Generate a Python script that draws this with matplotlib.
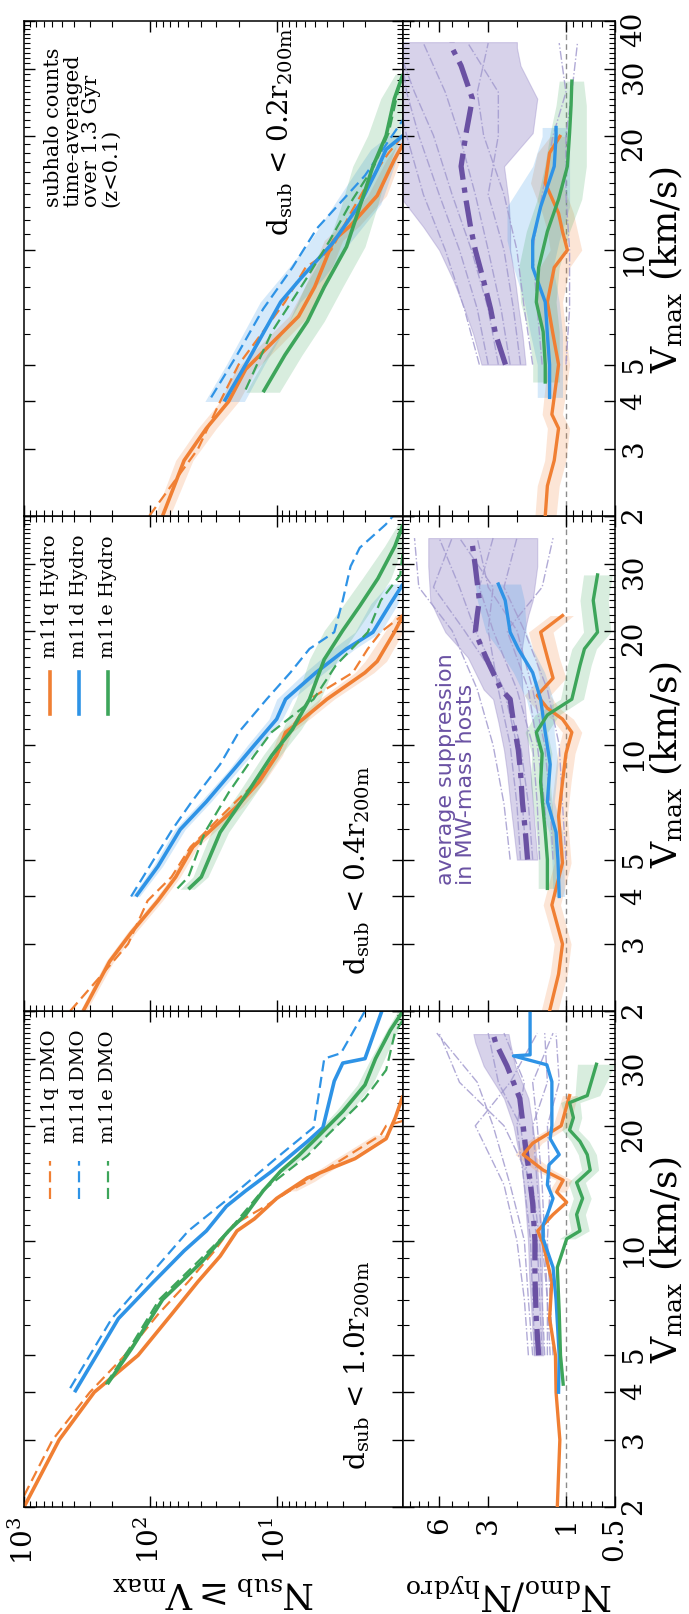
import numpy as np
import matplotlib
matplotlib.use('Agg')
import matplotlib.pyplot as plt
from matplotlib.ticker import FixedLocator, NullFormatter, LogLocator, FixedFormatter

plt.rcParams['font.family'] = ['DejaVu Serif']
plt.rcParams['mathtext.fontset'] = 'dejavuserif'

# ---------------- data ----------------
# column 1 : d_sub < 1.0 r200m
V_q_hyd_1 = [2, 3, 4, 5, 6.4, 7.8, 9.1, 10.6, 11.4, 12.9, 14.6, 16.4, 18.5, 21, 24]
N_q_hyd_1 = [1000, 527, 278, 125, 68, 42, 28, 20.6, 15, 10, 5.7, 2.4, 1.36, 1.15, 1.0]
V_q_dmo_1 = [2.14, 3, 4, 5, 6.4, 7.8, 9.4, 11, 12.2, 13.5, 14.3, 16.6, 18.9, 20, 20.6]
N_q_dmo_1 = [1000, 594, 301, 159, 87, 50, 31, 22, 12.8, 7.9, 5.7, 2.8, 1.5, 1.36, 1.0]
V_d_hyd_1 = [4.0, 6.24, 7.8, 9.4, 10.6, 12.3, 13.5, 15.2, 18.2, 19.8, 26.2, 29.2, 30, 40]
N_d_hyd_1 = [398, 179, 94, 54, 36, 25, 17.6, 10.9, 5.7, 4.3, 3.5, 3.0, 2.0, 1.47]
V_d_dmo_1 = [4.1, 6.24, 10.6, 13.2, 16.3, 19.8, 30, 31, 40]
N_d_dmo_1 = [431, 202, 50, 22, 10.4, 5.1, 4.2, 3.1, 2.0]
V_e_hyd_1 = [4.2, 5.2, 7.0, 8.8, 10.6, 11.7, 13.5, 15.2, 16.7, 18.5, 21.8, 25.6, 30, 35.6, 40]
N_e_hyd_1 = [219, 141, 80, 39, 24, 17.6, 12.8, 9.3, 6.7, 4.9, 3.0, 2.0, 1.65, 1.26, 1.0]
V_e_dmo_1 = [4.2, 5.2, 7.0, 8.8, 10.6, 13.5, 16.7, 19, 23.6, 28, 35, 38]
N_e_dmo_1 = [225, 147, 85, 42, 24, 13, 5.7, 3.9, 2.0, 1.36, 1.16, 1.0]
V_e_band_1 = [15.2, 16.7, 18.5, 21.8, 25.6, 30, 35.6, 40]
N_e_lo_1 = [8.5, 6, 4.2, 2.6, 1.75, 1.4, 1.1, 1.0]
N_e_hi_1 = [9.8, 7.2, 5.4, 3.4, 2.3, 1.8, 1.35, 1.1]
V_q_band_1 = [13.5, 14.3, 16.6, 18.9]
N_q_lo_1 = [7, 5, 2.5, 1.35]
N_q_hi_1 = [9, 6.5, 3.2, 1.7]

# column 2 : d_sub < 0.4 r200m
V_q_hyd_2 = [2, 2.7, 3.22, 3.9, 4.5, 5.4, 6.1, 6.9, 8.0, 9.4, 10.8, 11.7, 13.2, 15.5, 16.6, 19.8, 21.9]
N_q_hyd_2 = [340, 210, 141, 87, 63, 46, 31, 20.6, 13.8, 10, 8.5, 6.2, 4.0, 2.0, 1.6, 1.17, 1.0]
N_q_lo_2 = [320, 195, 130, 80, 58, 42, 28, 18.5, 12.5, 9, 7.6, 5.5, 3.5, 1.7, 1.35, 1.0, 1.0]
N_q_hi_2 = [360, 225, 152, 94, 68, 50, 34, 23, 15.3, 11.2, 9.5, 7, 4.6, 2.4, 2.0, 1.4, 1.15]
V_q_dmo_2 = [2, 2.5, 3, 3.9, 4.5, 5.4, 6.9, 8, 9.4, 10.8, 13.2, 15.5, 17.9, 19.8, 22]
N_q_dmo_2 = [431, 240, 150, 105, 68, 48, 23, 14.5, 10, 8, 5.5, 2.5, 1.9, 1.5, 1.0]
V_d_hyd_2 = [4.0, 4.8, 6.0, 7.1, 8.6, 10, 11.7, 13.2, 15.5, 17.9, 19.8, 23.5, 26.5]
N_d_hyd_2 = [130, 87, 58, 36, 22, 15, 10, 8.5, 4.9, 2.8, 1.73, 1.26, 1.0]
N_d_lo_2 = [122, 80, 53, 33, 20, 13.5, 9, 7.5, 4.2, 2.4, 1.5, 1.1, 1.0]
N_d_hi_2 = [140, 95, 64, 40, 24, 17, 11.5, 10, 6.0, 3.6, 2.4, 1.8, 1.3]
V_d_dmo_2 = [4.0, 6.0, 7.1, 8.9, 10.8, 13.2, 15.5, 17.9, 19.8, 24, 29.5, 33, 38, 40]
N_d_dmo_2 = [142, 67, 47, 28, 20, 12, 7.8, 5.5, 3.5, 3.0, 2.6, 2.2, 1.37, 1.2]
V_e_hyd_2 = [4.18, 4.5, 5.9, 7.5, 9.4, 11, 13.2, 16.8, 20, 23.2, 27.4, 33.3, 38]
N_e_hyd_2 = [50, 39.5, 28, 17, 10.9, 7.5, 5.5, 4.2, 3.0, 2.2, 1.58, 1.16, 1.0]
N_e_lo_2 = [45, 35, 24, 14.5, 9.3, 6.4, 4.5, 3.3, 2.3, 1.7, 1.25, 1.0, 1.0]
N_e_hi_2 = [58, 46, 33, 20, 12.8, 9, 7, 5.5, 4.2, 3.0, 2.1, 1.4, 1.1]
V_e_dmo_2 = [4.2, 4.5, 5.9, 7.5, 9.4, 10.8, 13.2, 16.2, 19.8, 24, 28, 33]
N_e_dmo_2 = [61, 50, 37, 24, 15, 11, 5.1, 3.4, 1.9, 1.5, 1.05, 1.0]

# column 3 : d_sub < 0.2 r200m
V_q_hyd_3 = [2, 2.8, 3.4, 4.0, 4.86, 5.7, 6.7, 8.0, 10.6, 11.6, 13.9, 17.3, 19]
N_q_hyd_3 = [80, 54, 36, 24, 17.6, 10.9, 6.7, 5.0, 3.55, 2.6, 1.6, 1.17, 1.0]
N_q_lo_3 = [70, 46, 30, 20, 14.5, 9, 5.6, 4.2, 3.0, 2.2, 1.35, 1.05, 1.0]
N_q_hi_3 = [92, 63, 42, 28, 21, 13, 8, 6.0, 4.2, 3.1, 1.9, 1.35, 1.1]
V_q_dmo_3 = [2, 3, 4, 5, 7.3, 9, 10, 12.5, 15, 18, 20]
N_q_dmo_3 = [102, 42, 28, 20, 8.6, 5.9, 3.7, 2.6, 1.9, 1.3, 1.0]
V_d_hyd_3 = [4, 5, 7.3, 8.4, 10.5, 13.2, 16.3, 18.4, 20]
N_d_hyd_3 = [26, 17.6, 9.3, 6.5, 3.55, 2.2, 1.6, 1.36, 1.0]
N_d_lo_3 = [18, 12.5, 6.5, 4.3, 2.6, 1.5, 1.2, 1.05, 1.0]
N_d_hi_3 = [37, 25, 13.5, 9.5, 5.5, 3.5, 2.3, 1.8, 1.3]
V_d_dmo_3 = [4.1, 5.3, 7, 9, 11.4, 15.7, 22]
N_d_dmo_3 = [33, 20.6, 12.8, 7.5, 4.8, 2.0, 1.0]
V_e_hyd_3 = [4.23, 5.3, 6.5, 8, 10.2, 13, 16.6, 20, 25, 29]
N_e_hyd_3 = [12.8, 8.6, 5.7, 4.2, 2.8, 2.2, 1.73, 1.36, 1.17, 1.0]
N_e_lo_3 = [9.5, 6.3, 4.2, 3.0, 2.0, 1.6, 1.3, 1.05, 1.0, 1.0]
N_e_hi_3 = [17.5, 12, 8.0, 6.0, 4.0, 3.1, 2.5, 1.9, 1.5, 1.15]
V_e_dmo_3 = [4.3, 6.1, 8.5, 10.6, 13.6, 16.6, 20.3, 27.8]
N_e_dmo_3 = [17.6, 10.9, 5.7, 3.8, 2.5, 1.7, 1.3, 1.05]

# ratio panels N_dmo / N_hydro
V_rq_1 = [2, 3, 4, 5, 6.24, 7.8, 9.8, 10.6, 11.7, 12.6, 13.4, 14.4, 15.3, 16.8, 18, 20, 24]
R_rq_1 = [1.13, 1.09, 1.15, 1.16, 1.26, 1.22, 1.38, 1.49, 1.2, 0.99, 1.14, 1.04, 1.38, 1.83, 1.6, 1.07, 0.95]
V_rq_band_1 = [13.4, 14.4, 15.3, 16.8, 18, 20, 24]
R_rq_lo_1 = [1.0, 0.92, 1.2, 1.6, 1.4, 0.95, 0.85]
R_rq_hi_1 = [1.28, 1.15, 1.55, 2.05, 1.8, 1.2, 1.05]
V_rd_1 = [4, 5, 7, 8.5, 10.1, 11.0, 11.7, 12.9, 14.0, 15.8, 16.8, 18.5, 20, 26.1, 28.9, 30.5, 30.7, 33, 40]
R_rd_1 = [1.11, 1.1, 1.15, 1.2, 1.38, 1.38, 1.3, 1.2, 1.3, 1.27, 1.1, 1.25, 1.22, 1.22, 1.31, 2.1, 1.66, 1.66, 1.66]
V_re_1 = [4.2, 5, 6.5, 8.5, 10.1, 10.6, 11.7, 12.9, 14.2, 15.3, 16.8, 18.2, 19.5, 21, 23, 24, 29]
R_re_1 = [1.04, 1.08, 1.1, 1.13, 0.99, 0.82, 0.86, 0.79, 0.86, 0.71, 0.74, 0.82, 0.95, 0.9, 0.95, 0.74, 0.65]
V_re_band_1 = [10.1, 10.6, 11.7, 12.9, 14.2, 15.3, 16.8, 18.2, 19.5, 21, 23, 24, 29]
R_re_lo_1 = [0.88, 0.72, 0.76, 0.7, 0.76, 0.63, 0.65, 0.72, 0.84, 0.8, 0.82, 0.62, 0.5]
R_re_hi_1 = [1.1, 0.93, 0.97, 0.9, 0.97, 0.8, 0.84, 0.93, 1.06, 1.01, 1.08, 0.88, 0.85]

V_rq_2 = [2, 2.5, 3, 3.8, 4.9, 6.5, 8, 9.5, 10.8, 11.7, 12.5, 13.5, 15, 17, 19.8, 21.9]
R_rq_2 = [1.26, 1.11, 1.05, 1.22, 1.05, 1.11, 1.05, 1.0, 0.92, 1.05, 1.3, 1.5, 1.2, 1.3, 1.43, 1.05]
R_rq_lo_2 = [1.12, 0.98, 0.93, 1.08, 0.93, 0.98, 0.93, 0.88, 0.8, 0.9, 1.1, 1.25, 1.0, 1.1, 1.2, 0.9]
R_rq_hi_2 = [1.42, 1.25, 1.18, 1.38, 1.18, 1.25, 1.18, 1.13, 1.05, 1.22, 1.55, 1.8, 1.45, 1.55, 1.7, 1.25]
V_rd_2 = [4, 5, 5.9, 7.1, 8.9, 10.8, 13.2, 15.5, 17.9, 19.8, 24, 26.5]
R_rd_2 = [1.1, 1.12, 1.15, 1.3, 1.25, 1.34, 1.43, 1.6, 1.96, 2.2, 2.36, 2.6]
R_rd_lo_2 = [1.02, 1.03, 1.05, 1.18, 1.12, 1.18, 1.2, 1.35, 1.6, 1.75, 1.8, 1.9]
R_rd_hi_2 = [1.2, 1.22, 1.27, 1.45, 1.4, 1.55, 1.75, 2.1, 2.6, 3.1, 3.5, 3.6]
V_re_2 = [4.2, 5, 5.9, 8, 9.5, 10.8, 12, 13.2, 16.2, 17.9, 19.8, 24, 28]
R_re_2 = [1.3, 1.3, 1.34, 1.43, 1.4, 1.52, 1.3, 0.92, 0.82, 0.77, 0.64, 0.68, 0.64]
R_re_lo_2 = [1.15, 1.15, 1.18, 1.25, 1.22, 1.3, 1.1, 0.78, 0.7, 0.65, 0.53, 0.55, 0.52]
R_re_hi_2 = [1.48, 1.48, 1.52, 1.65, 1.62, 1.78, 1.55, 1.08, 0.98, 0.92, 0.78, 0.82, 0.78]

V_rq_3 = [2, 2.4, 2.8, 3.4, 3.7, 5, 6, 7.3, 9, 10, 11.2, 12.5, 15, 18, 19.9]
R_rq_3 = [1.34, 1.3, 1.18, 1.11, 1.22, 1.11, 1.2, 1.3, 1.18, 0.98, 1.05, 1.11, 1.34, 1.26, 1.09]
R_rq_lo_3 = [1.15, 1.1, 1.0, 0.95, 1.05, 0.95, 1.0, 1.05, 0.95, 0.8, 0.85, 0.9, 1.05, 1.0, 0.95]
R_rq_hi_3 = [1.55, 1.5, 1.35, 1.3, 1.4, 1.3, 1.4, 1.55, 1.45, 1.25, 1.3, 1.4, 1.65, 1.5, 1.25]
V_rd_3 = [4.1, 5, 6, 7.3, 9, 10.6, 13, 16.6, 19.9, 21]
R_rd_3 = [1.26, 1.26, 1.3, 1.34, 1.6, 1.6, 1.43, 1.18, 1.15, 1.15]
R_rd_lo_3 = [1.05, 1.05, 1.05, 1.1, 1.2, 1.1, 0.95, 0.95, 0.95, 0.95]
R_rd_hi_3 = [1.5, 1.5, 1.65, 1.8, 2.1, 2.3, 2.3, 1.6, 1.4, 1.4]
V_re_3 = [4.5, 5, 6.1, 7.3, 9, 11.2, 13.6, 16.6, 20.3, 24, 27.8]
R_re_3 = [1.34, 1.34, 1.38, 1.52, 1.47, 1.3, 1.11, 0.98, 0.95, 0.93, 0.92]
R_re_lo_3 = [1.1, 1.1, 1.1, 1.15, 1.1, 0.95, 0.8, 0.75, 0.75, 0.75, 0.78]
R_re_hi_3 = [1.6, 1.6, 1.7, 1.9, 1.95, 1.75, 1.5, 1.35, 1.25, 1.15, 1.1]

# average suppression in MW-mass hosts (thick line, band, individual hosts)
V_mw_1 = [5, 6.2, 8, 10, 12.5, 15.6, 18, 20, 23.6, 28.7, 33, 34.8]
R_mw_1 = [1.47, 1.52, 1.55, 1.55, 1.6, 1.7, 1.78, 1.83, 1.92, 2.3, 2.7, 2.8]
R_mw_lo_1 = [1.38, 1.4, 1.4, 1.4, 1.45, 1.5, 1.55, 1.6, 1.7, 2.05, 2.2, 2.25]
R_mw_hi_1 = [1.58, 1.62, 1.68, 1.71, 1.78, 1.86, 2.0, 2.1, 2.4, 3.2, 3.6, 3.7]
V_mw_2 = [5, 6, 7.1, 8.5, 9.7, 11.5, 13.2, 14, 17, 19.8, 22, 24, 29.5, 35]
R_mw_2 = [1.72, 1.78, 1.85, 1.9, 1.96, 2.1, 2.2, 2.5, 3.1, 3.6, 3.5, 3.4, 3.6, 3.8]
R_mw_lo_2 = [1.5, 1.55, 1.6, 1.65, 1.7, 1.75, 1.8, 1.85, 1.9, 1.8, 1.7, 1.6, 1.5, 1.5]
R_mw_hi_2 = [2.0, 2.1, 2.2, 2.3, 2.4, 2.6, 2.8, 3.2, 4.0, 5.5, 6.2, 6.8, 7.0, 7.0]
V_mw_3 = [5, 6, 7, 8.3, 10, 11.5, 13.5, 16.6, 20.3, 25, 30.5, 34, 35.2]
R_mw_3 = [2.35, 2.7, 2.9, 3.2, 3.6, 3.85, 4.1, 4.4, 4.1, 3.75, 4.4, 5.0, 5.0]
R_mw_lo_3 = [1.77, 1.85, 1.95, 2.05, 2.2, 2.2, 2.25, 2.4, 1.6, 1.5, 1.9, 2.0, 2.0]
R_mw_hi_3 = [3.3, 3.7, 4.2, 4.9, 6.0, 7.5, 10, 10, 10, 10, 10, 10, 10]

V_host = [5, 7, 10, 14, 20, 26, 35]
R_host_1 = [[1.3, 1.3, 1.35, 1.4, 1.5, 1.6, 1.2],
            [1.6, 1.7, 1.8, 2.2, 2.8, 3.5, 6.2],
            [1.4, 1.45, 1.5, 1.7, 1.9, 2.6, 3.0],
            [1.7, 1.8, 2.0, 2.4, 3.6, 2.2, 1.5],
            [1.2, 1.25, 1.3, 1.25, 1.3, 1.1, 1.15],
            [1.55, 1.6, 1.65, 1.8, 2.0, 1.8, 2.4],
            [1.35, 1.4, 1.45, 1.6, 2.4, 4.5, 6.0],
            [1.25, 1.3, 1.4, 1.5, 1.6, 1.3, 1.35]]
R_host_2 = [[1.3, 1.35, 1.5, 1.7, 2.3, 1.4, 1.2],
            [2.2, 2.4, 2.8, 3.5, 5.0, 8.0, 8.5],
            [1.6, 1.7, 1.9, 2.4, 3.6, 4.5, 6.0],
            [1.0, 1.05, 1.1, 1.3, 1.8, 2.4, 2.0],
            [1.9, 2.0, 2.2, 2.6, 3.0, 2.8, 4.5],
            [1.45, 1.5, 1.6, 2.0, 2.8, 3.4, 2.8],
            [1.2, 1.25, 1.35, 1.6, 2.0, 3.0, 3.5],
            [1.75, 1.85, 2.0, 2.4, 4.2, 6.5, 5.0]]
R_host_3 = [[3.4, 4.2, 5.5, 7.5, 9.5, 11, 12],
            [2.6, 3.0, 3.8, 5.0, 6.5, 8.5, 11],
            [2.2, 2.5, 3.0, 3.6, 4.5, 5.5, 7.5],
            [1.9, 2.1, 2.4, 3.0, 2.6, 2.6, 4.0],
            [1.4, 1.5, 1.6, 1.4, 1.2, 1.0, 1.1],
            [1.0, 0.95, 0.95, 1.0, 1.0, 0.92, 0.85],
            [3.0, 3.5, 4.5, 6.0, 8.0, 9.5, 10.5],
            [1.6, 1.8, 2.0, 2.4, 3.2, 3.5, 3.0]]

vmax_ticks = [2, 3, 4, 5, 10, 20, 30, 40]
vmax_minor = [v for v in range(6, 40) if v not in (10, 20, 30)]
col_labels = ['1.0', '0.4', '0.2']
hosts = ['m11q', 'm11d', 'm11e']

C_Q = '#f07f33'
C_D = '#2e93e6'
C_E = '#3da55a'
C_MW = '#6a51a3'
C_MWL = '#a39bcf'
C_MWB = '#8f80c4'

# ---------------- figure ----------------
W, H = 689, 1615
fig = plt.figure(figsize=(W / 100, H / 100), dpi=100)

col_px = [(1012, 1508), (517, 1012), (22, 517)]
xN0, xN1, xR1 = 24, 403, 615

def style_axes(ax):
    ax.set_yscale('log')
    ax.set_ylim(2, 40)
    ax.yaxis.set_major_locator(FixedLocator(vmax_ticks))
    ax.yaxis.set_minor_locator(FixedLocator(vmax_minor))
    ax.yaxis.set_minor_formatter(NullFormatter())
    ax.tick_params(which='both', direction='in', top=True, bottom=True,
                   left=True, right=True, labelleft=False, labelright=False,
                   labelbottom=False, labeltop=False)
    ax.tick_params(which='major', length=8, width=1.0)
    ax.tick_params(which='minor', length=4, width=0.8)
    for s in ax.spines.values():
        s.set_linewidth(1.1)

axesN, axesR = [], []
for c in range(3):
    top, bot = col_px[c]
    axN = fig.add_axes([xN0 / W, 1 - bot / H, (xN1 - xN0) / W, (bot - top) / H])
    axR = fig.add_axes([xN1 / W, 1 - bot / H, (xR1 - xN1) / W, (bot - top) / H])
    axN.set_xscale('log')
    axN.set_xlim(1e3, 1)
    axR.set_xscale('log')
    axR.set_xlim(10, 0.5)
    for ax in (axN, axR):
        style_axes(ax)
    axN.xaxis.set_major_locator(FixedLocator([1e3, 1e2, 1e1, 1]))
    axN.xaxis.set_minor_locator(LogLocator(base=10, subs=np.arange(2, 10)))
    axN.xaxis.set_minor_formatter(NullFormatter())
    axR.xaxis.set_major_locator(FixedLocator([0.5, 1, 3, 6]))
    axR.xaxis.set_minor_locator(FixedLocator([0.6, 0.7, 0.8, 0.9, 2, 4, 5, 7, 8, 9]))
    axR.xaxis.set_minor_formatter(NullFormatter())
    axR.tick_params(axis='y', labelright=True, labelsize=20, labelrotation=90, pad=4)
    labs = ['2', '3', '4', '5', '10', '20', '30', '40' if c == 2 else '']
    axR.yaxis.set_major_formatter(FixedFormatter(labs))
    axesN.append(axN)
    axesR.append(axR)

# tick labels on the first column only
axesN[0].tick_params(axis='x', labelbottom=True, labelsize=20, labelrotation=90, pad=6)
axesN[0].xaxis.set_major_formatter(FixedFormatter([r'$10^3$', r'$10^2$', r'$10^1$', '']))
axesR[0].tick_params(axis='x', labelbottom=True, labelsize=20, labelrotation=90, pad=6)
axesR[0].xaxis.set_major_formatter(FixedFormatter(['0.5', '1', '3', '6']))

# ---------------- cumulative counts ----------------
topdata = [
    [(V_q_hyd_1, N_q_hyd_1, V_q_dmo_1, N_q_dmo_1),
     (V_d_hyd_1, N_d_hyd_1, V_d_dmo_1, N_d_dmo_1),
     (V_e_hyd_1, N_e_hyd_1, V_e_dmo_1, N_e_dmo_1)],
    [(V_q_hyd_2, N_q_hyd_2, V_q_dmo_2, N_q_dmo_2),
     (V_d_hyd_2, N_d_hyd_2, V_d_dmo_2, N_d_dmo_2),
     (V_e_hyd_2, N_e_hyd_2, V_e_dmo_2, N_e_dmo_2)],
    [(V_q_hyd_3, N_q_hyd_3, V_q_dmo_3, N_q_dmo_3),
     (V_d_hyd_3, N_d_hyd_3, V_d_dmo_3, N_d_dmo_3),
     (V_e_hyd_3, N_e_hyd_3, V_e_dmo_3, N_e_dmo_3)],
]
colors = [C_Q, C_D, C_E]

# bands in count panels
axesN[0].fill_betweenx(V_e_band_1, N_e_lo_1, N_e_hi_1, color=C_E, alpha=0.2, lw=0)
axesN[0].fill_betweenx(V_q_band_1, N_q_lo_1, N_q_hi_1, color=C_Q, alpha=0.2, lw=0)
axesN[1].fill_betweenx(V_q_hyd_2, N_q_lo_2, N_q_hi_2, color=C_Q, alpha=0.2, lw=0)
axesN[1].fill_betweenx(V_d_hyd_2, N_d_lo_2, N_d_hi_2, color=C_D, alpha=0.2, lw=0)
axesN[1].fill_betweenx(V_e_hyd_2, N_e_lo_2, N_e_hi_2, color=C_E, alpha=0.2, lw=0)
axesN[2].fill_betweenx(V_q_hyd_3, N_q_lo_3, N_q_hi_3, color=C_Q, alpha=0.2, lw=0)
axesN[2].fill_betweenx(V_d_hyd_3, N_d_lo_3, N_d_hi_3, color=C_D, alpha=0.2, lw=0)
axesN[2].fill_betweenx(V_e_hyd_3, N_e_lo_3, N_e_hi_3, color=C_E, alpha=0.2, lw=0)

for c in range(3):
    ax = axesN[c]
    for k in range(3):
        Vh, Nh, Vd, Nd = topdata[c][k]
        ax.plot(Nd, Vd, color=colors[k], lw=1.6, ls=(0, (5, 2.5)))
        ax.plot(Nh, Vh, color=colors[k], lw=2.6, solid_capstyle='butt')

# ---------------- ratio panels ----------------
ratio = [
    [(V_rq_1, R_rq_1), (V_rd_1, R_rd_1), (V_re_1, R_re_1)],
    [(V_rq_2, R_rq_2), (V_rd_2, R_rd_2), (V_re_2, R_re_2)],
    [(V_rq_3, R_rq_3), (V_rd_3, R_rd_3), (V_re_3, R_re_3)],
]
mw = [(V_mw_1, R_mw_1, R_mw_lo_1, R_mw_hi_1),
      (V_mw_2, R_mw_2, R_mw_lo_2, R_mw_hi_2),
      (V_mw_3, R_mw_3, R_mw_lo_3, R_mw_hi_3)]
host_sets = [R_host_1, R_host_2, R_host_3]

for c in range(3):
    ax = axesR[c]
    ax.axvline(1.0, color='0.55', lw=1.0, ls=(0, (4, 3)), zorder=1)
    Vm, Rm, lo, hi = mw[c]
    ax.fill_betweenx(Vm, lo, hi, color=C_MWB, alpha=0.35, lw=0.8, zorder=1)
    for Rh in host_sets[c]:
        ax.plot(Rh, V_host, color=C_MWL, lw=1.0, ls='-.', alpha=0.85, zorder=2)
    ax.plot(Rm, Vm, color=C_MW, lw=3.8, ls=(0, (5, 1.5, 1, 1.5)), zorder=3)

axesR[0].fill_betweenx(V_rq_band_1, R_rq_lo_1, R_rq_hi_1, color=C_Q, alpha=0.2, lw=0)
axesR[0].fill_betweenx(V_re_band_1, R_re_lo_1, R_re_hi_1, color=C_E, alpha=0.2, lw=0)
axesR[1].fill_betweenx(V_rq_2, R_rq_lo_2, R_rq_hi_2, color=C_Q, alpha=0.2, lw=0)
axesR[1].fill_betweenx(V_rd_2, R_rd_lo_2, R_rd_hi_2, color=C_D, alpha=0.2, lw=0)
axesR[1].fill_betweenx(V_re_2, R_re_lo_2, R_re_hi_2, color=C_E, alpha=0.2, lw=0)
axesR[2].fill_betweenx(V_rq_3, R_rq_lo_3, R_rq_hi_3, color=C_Q, alpha=0.2, lw=0)
axesR[2].fill_betweenx(V_rd_3, R_rd_lo_3, R_rd_hi_3, color=C_D, alpha=0.2, lw=0)
axesR[2].fill_betweenx(V_re_3, R_re_lo_3, R_re_hi_3, color=C_E, alpha=0.2, lw=0)

for c in range(3):
    ax = axesR[c]
    for k in range(3):
        Vr, Rr = ratio[c][k]
        ax.plot(Rr, Vr, color=colors[k], lw=2.4, zorder=4)

# ---------------- annotations ----------------
dsub_pos = [(0.879, 0.077, 'bottom'), (0.879, 0.075, 'bottom'), (0.675, 0.988, 'top')]
for c in range(3):
    x, y, va = dsub_pos[c]
    axesN[c].text(x, y, r'$\mathrm{d_{sub}}$ < ' + col_labels[c] + r'$\mathrm{r_{200m}}$',
                  transform=axesN[c].transAxes, rotation=90, ha='center', va=va,
                  fontsize=20)

# manual legends
leg_x = [0.0686, 0.145, 0.2216]
for k in range(3):
    axesN[0].plot([leg_x[k], leg_x[k]], [0.621, 0.698], transform=axesN[0].transAxes,
                  color=colors[k], lw=1.6, ls=(0, (5, 2.5)), clip_on=False)
    axesN[0].text(leg_x[k], 0.736, hosts[k] + ' DMO', transform=axesN[0].transAxes,
                  rotation=90, ha='center', va='bottom', fontsize=14)
    axesN[1].plot([leg_x[k], leg_x[k]], [0.600, 0.685], transform=axesN[1].transAxes,
                  color=colors[k], lw=2.6, clip_on=False)
    axesN[1].text(leg_x[k], 0.715, hosts[k] + ' Hydro', transform=axesN[1].transAxes,
                  rotation=90, ha='center', va='bottom', fontsize=14)

axesN[2].text(0.053, 0.626, 'subhalo counts\ntime-averaged\nover 1.3 Gyr\n(z<0.1)',
              transform=axesN[2].transAxes, rotation=90, ha='left', va='bottom',
              multialignment='left', fontsize=15, linespacing=1.0)

axesR[1].text(0.156, 0.257, 'average suppression\nin MW-mass hosts',
              transform=axesR[1].transAxes, rotation=90, ha='left', va='bottom',
              multialignment='left', fontsize=16, color=C_MW,
              family=['DejaVu Sans'], linespacing=1.0)

# axis labels
for c in range(3):
    top, bot = col_px[c]
    fig.text(666 / W, 1 - (top + bot) / 2 / H, r'$\mathrm{V_{max}}$ (km/s)',
             rotation=90, ha='center', va='center', fontsize=26)
fig.text((xN0 + xN1) / 2 / W, 1 - 1592 / H, r'$\mathrm{N_{sub} \geq V_{max}}$',
         rotation=180, ha='center', va='center', fontsize=26)
fig.text((xN1 + xR1) / 2 / W, 1 - 1592 / H, r'$\mathrm{N_{dmo}/N_{hydro}}$',
         rotation=180, ha='center', va='center', fontsize=26)

fig.savefig('out.png', dpi=100)
